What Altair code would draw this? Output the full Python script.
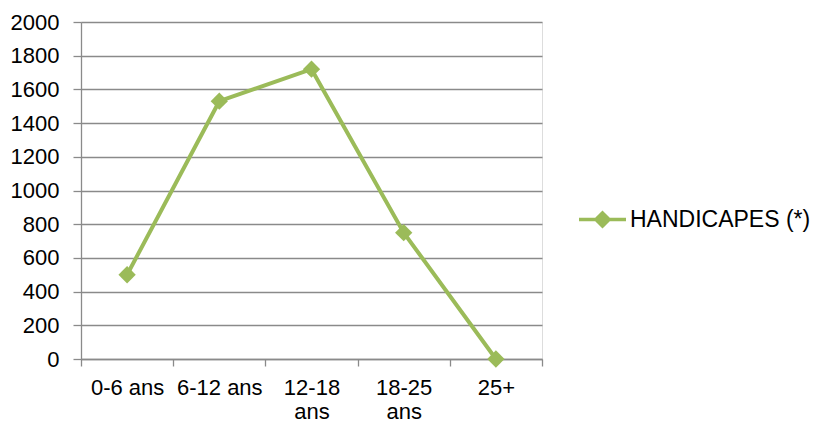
import altair as alt
import pandas as pd

categories = ["0-6 ans", "6-12 ans", "12-18 ans", "18-25 ans", "25+"]
values = [500, 1530, 1720, 750, 0]
series_name = "HANDICAPES (*)"
y_ticks = [0, 200, 400, 600, 800, 1000, 1200, 1400, 1600, 1800, 2000]

df = pd.DataFrame({"age": categories, "n": values, "serie": [series_name] * len(categories)})

green = "#9BBB59"
grey = "#8A8A8A"
font = "Liberation Sans"
legend_path = "M-1,0H1M0,-0.28L0.28,0L0,0.28L-0.28,0Z"

chart = alt.Chart(df).mark_line(
    strokeWidth=4,
    point=alt.OverlayMarkDef(shape="diamond", filled=True, size=300, opacity=1),
).encode(
    x=alt.X(
        "age:N",
        sort=categories,
        bandPosition=0.5,
        scale=alt.Scale(type="band", paddingInner=0, paddingOuter=0),
        axis=alt.Axis(
            title=None,
            tickBand="extent",
            labelAngle=0,
            labelFontSize=22,
            labelFont=font,
            labelColor="#000000",
            labelPadding=11,
            labelLineHeight=24,
            labelBaseline="top",
            domainColor=grey,
            domainWidth=1.3,
            tickColor=grey,
            tickWidth=1.3,
            tickSize=7,
            grid=False,
            labelExpr="length(datum.label) > 8 ? split(datum.label, ' ') : datum.label",
        ),
    ),
    y=alt.Y(
        "n:Q",
        scale=alt.Scale(domain=[0, 2000], nice=False),
        axis=alt.Axis(
            title=None,
            values=y_ticks,
            format="d",
            labelFontSize=22,
            labelFont=font,
            labelColor="#000000",
            labelPadding=14,
            domainColor=grey,
            domainWidth=1.3,
            tickColor=grey,
            tickWidth=1.3,
            tickSize=8,
            grid=True,
            gridColor=grey,
            gridWidth=1.3,
        ),
    ),
    color=alt.Color(
        "serie:N",
        scale=alt.Scale(range=[green]),
        legend=alt.Legend(
            title=None,
            orient="none",
            legendX=496,
            legendY=172,
            symbolType=legend_path,
            symbolSize=2209,
            symbolStrokeWidth=3.5,
            labelFontSize=23,
            labelFont=font,
            labelColor="#000000",
            labelOffset=2,
            labelLimit=0,
        ),
    ),
).properties(
    width=461,
    height=337,
    autosize=alt.AutoSizeParams(type="none"),
    padding={"left": 81, "top": 22, "right": 273, "bottom": 64},
).configure_view(stroke=None).configure(background="white")

chart.save("out.html", embed_options={"renderer": "svg", "actions": False})
